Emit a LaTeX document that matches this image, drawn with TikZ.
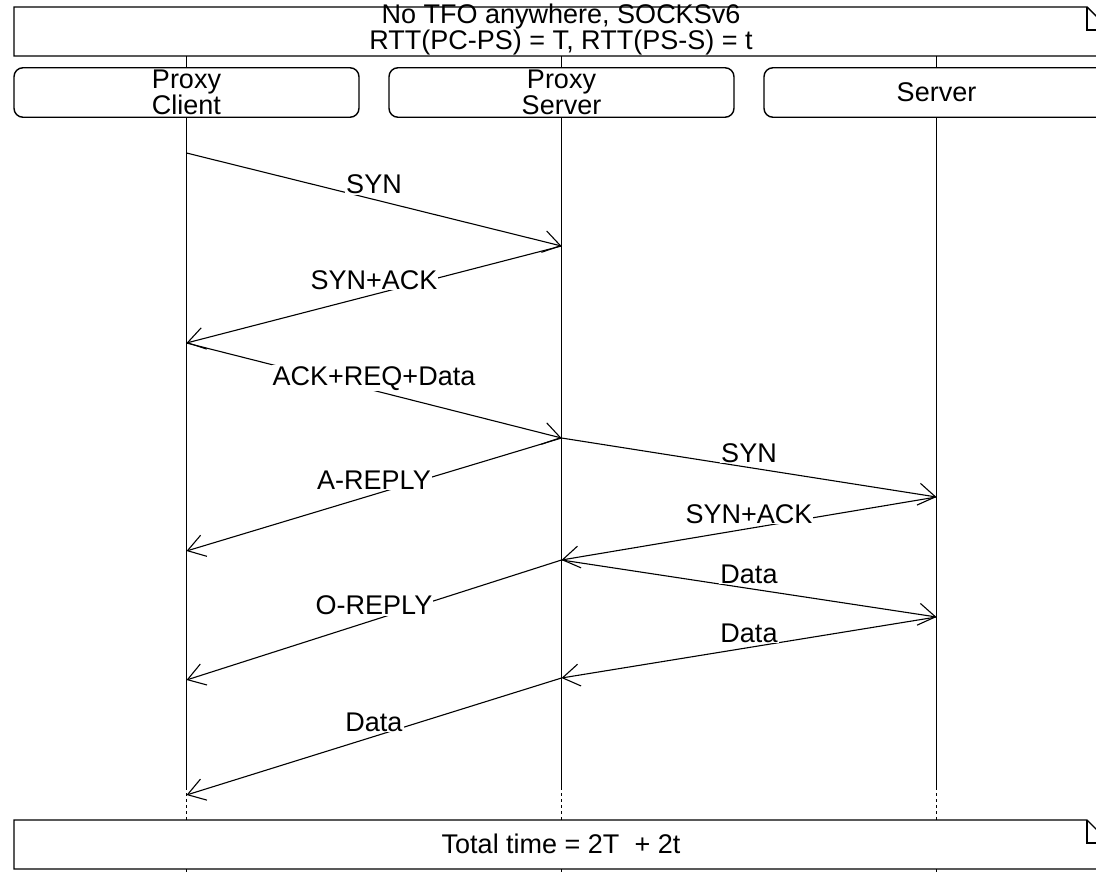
\documentclass[tikz,border=0pt]{standalone}
\usepackage{fontspec}
\setmainfont{Liberation Sans}
\usetikzlibrary{arrows.meta, positioning}

\tikzset{
    entbox/.style={draw, line width=1.4pt, rounded corners=9pt,
        minimum width=345pt, minimum height=49.5pt, inner sep=0pt,
        outer sep=0pt, align=center},
    notebox/.style={line width=1.4pt},
    msg/.style={line width=1.1pt,
        -{Straight Barb[length=17pt, width=22pt, line width=1.1pt]}},
    lbl/.style={midway, anchor=base, yshift=5.5pt, fill=white, inner sep=1pt},
    life/.style={line width=1pt},
    lifedash/.style={line width=1pt, dash pattern=on 3pt off 3pt},
}

\newcommand{\Msg}[3]{%
    % #1 : from
    % #2 : to
    % #3 : label
    \draw[msg] (#1) -- node[lbl] {#3} (#2);
}

\begin{document}
\begin{tikzpicture}[
        x=1pt, y=-1pt,
        font=\fontsize{27}{22.6}\selectfont,
    ]

    \useasboundingbox (0,0) rectangle (1096,872);
    \clip (0,0) rectangle (1096,872);

    \def\xleft{14}
    \def\xfold{1087}
    \def\xright{1110}
    \def\fold{23}

    % Header note
    \draw[notebox] (\xleft,7) -- (\xfold,7) -- (\xright,7+\fold)
        -- (\xright,56) -- (\xleft,56) -- cycle;
    \draw[notebox] (\xfold,7) |- (\xright,7+\fold);
    \node[anchor=base, align=center, inner sep=0pt] (title) at (561,49.3)
        {No TFO anywhere, SOCKSv6\\RTT(PC-PS) = T, RTT(PS-S) = t};

    % Entities
    \node[entbox] (pc) at (186.5,92.5) {Proxy\\Client};
    \node[entbox, right=30pt of pc] (ps) {Proxy\\Server};
    \node[entbox, right=30pt of ps] (sv) {Server};

    % Lifelines
    \foreach \e in {pc,ps,sv} {
        \draw[life] (\e.north) -- (\e |- 0,56);
        \draw[life] (\e.south) -- (\e |- 0,787);
        \draw[lifedash] (\e |- 0,787) -- (\e |- 0,820);
        \draw[life] (\e |- 0,869) -- (\e |- 0,872);
    }

    % Events
    \foreach \y in {153,343,551,680,795}
        \coordinate (pc-\y) at (pc |- 0,\y);
    \foreach \y in {246,438,560,678}
        \coordinate (ps-\y) at (ps |- 0,\y);
    \foreach \y in {497,617}
        \coordinate (sv-\y) at (sv |- 0,\y);

    \Msg{pc-153}{ps-246}{SYN}
    \Msg{ps-246}{pc-343}{SYN+ACK}
    \Msg{pc-343}{ps-438}{ACK+REQ+Data}
    \Msg{ps-438}{sv-497}{SYN}
    \Msg{ps-438}{pc-551}{A-REPLY}
    \Msg{sv-497}{ps-560}{SYN+ACK}
    \Msg{ps-560}{sv-617}{Data}
    \Msg{ps-560}{pc-680}{O-REPLY}
    \Msg{sv-617}{ps-678}{Data}
    \Msg{ps-678}{pc-795}{Data}

    % Footer note
    \draw[notebox] (\xleft,820) -- (\xfold,820) -- (\xright,820+\fold)
        -- (\xright,869) -- (\xleft,869) -- cycle;
    \draw[notebox] (\xfold,820) |- (\xright,820+\fold);
    \node[anchor=base, inner sep=0pt] (total) at (561,853)
        {Total time = 2T~ + 2t};

\end{tikzpicture}
\end{document}
